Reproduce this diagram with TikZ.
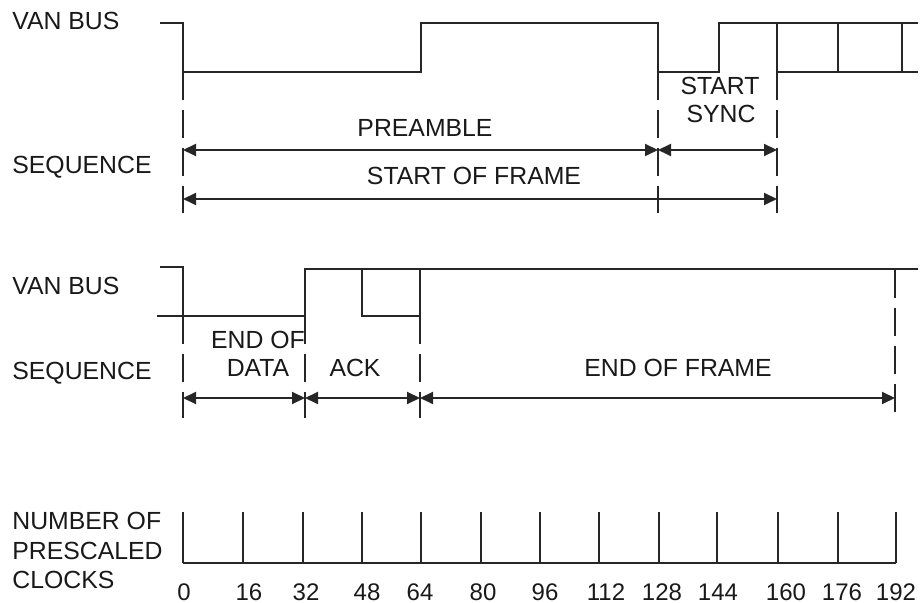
\documentclass[tikz,border=0pt]{standalone}
\usepackage{fontspec}
\setmainfont{Liberation Sans}
\usetikzlibrary{arrows.meta}
\tikzset{
  wave/.style={line width=0.95pt, line join=miter, draw=black!85},
  guide/.style={line width=0.95pt, draw=black!85, dash pattern=on 14pt off 5pt},
  span/.style={line width=0.95pt, draw=black!85, {Triangle[length=6.5pt,width=6pt]}-{Triangle[length=6.5pt,width=6pt]}},
  lbl/.style={anchor=base west, inner sep=0pt, text=black!90, font=\fontsize{12.4}{14}\selectfont},
  txt/.style={anchor=base, inner sep=0pt, text=black!90, font=\fontsize{12.4}{14}\selectfont},
  num/.style={anchor=base, inner sep=0pt, text=black!90, font=\fontsize{12}{13}\selectfont},
  tickline/.style={line width=0.95pt, draw=black!85}
}
\begin{document}
\begin{tikzpicture}[x=0.5pt,y=-0.5pt]
\useasboundingbox (0,0) rectangle (920,603);
% left labels
\node[lbl] (vb1) at (12,30) {VAN BUS};
\node[lbl] (sq1) at (12,174) {SEQUENCE};
\node[lbl] (vb2) at (12,295) {VAN BUS};
\node[lbl] (sq2) at (12,380) {SEQUENCE};
\node[lbl] (nc1) at (12,529) {NUMBER OF};
\node[lbl] (nc2) at (12,559) {PRESCALED};
\node[lbl] (nc3) at (12,588) {CLOCKS};
% top waveform
\draw[wave] (160,23) -- (183,23) -- (183,72) -- (421,72) -- (421,23) -- (658,23) -- (658,72) -- (719,72) -- (719,23) -- (918,23);
\draw[wave] (777,23) -- (777,72) -- (918,72);
\draw[wave] (838,23) -- (838,72);
\draw[wave] (902,23) -- (902,72);
% top guides
\coordinate (a0t) at (183,72);  \coordinate (a0b) at (183,213);
\coordinate (a1t) at (658,72);  \coordinate (a1b) at (658,213);
\coordinate (a2t) at (777,72);  \coordinate (a2b) at (777,213);
\draw[guide] (a0t) -- (a0b);
\draw[guide] (a1t) -- (a1b);
\draw[guide] (a2t) -- (a2b);
\coordinate (p0) at (183,150); \coordinate (p1) at (658,150); \coordinate (p2) at (777,150);
\coordinate (f0) at (183,199); \coordinate (f2) at (777,199);
\draw[span] (p0) -- (p1);
\draw[span] (p1) -- (p2);
\draw[span] (f0) -- (f2);
\node[txt] (pre) at (425,137) {PREAMBLE};
\node[txt] (sof) at (474,185) {START OF FRAME};
\node[txt] (ss1) at (720,95) {START};
\node[txt] (ss2) at (721,123) {SYNC};
% bottom waveform
\draw[wave] (160,267) -- (183,267) -- (183,316);
\draw[wave] (157,316) -- (305,316) -- (305,269) -- (918,269);
\draw[wave] (362,269) -- (362,316) -- (420,316) -- (420,269);
\coordinate (b0t) at (183,316); \coordinate (b0b) at (183,418);
\coordinate (b1t) at (305,316); \coordinate (b1b) at (305,418);
\coordinate (b2t) at (420,316); \coordinate (b2b) at (420,418);
\coordinate (b3t) at (895,270); \coordinate (b3b) at (895,418);
\draw[guide] (b0t) -- (b0b);
\draw[guide] (b1t) -- (b1b);
\draw[guide] (b2t) -- (b2b);
\draw[guide] (b3t) -- (b3b);
\coordinate (e0) at (183,398); \coordinate (e1) at (305,398);
\coordinate (e2) at (420,398); \coordinate (e3) at (895,398);
\draw[span] (e0) -- (e1);
\draw[span] (e1) -- (e2);
\draw[span] (e2) -- (e3);
\node[txt] (eod1) at (258,349) {END OF};
\node[txt] (eod2) at (258,377) {DATA};
\node[txt] (ack) at (355,377) {ACK};
\node[txt] (eof) at (678,377) {END OF FRAME};
% clock scale
\coordinate (c0) at (183,563); \coordinate (c1) at (896,563);
\draw[tickline] (c0) -- (c1);
\foreach \x [count=\i] in {183,243,303,362,421,481,540,599,659,717,778,838,896}{
  \coordinate (tk\i) at (\x,512);
  \coordinate (tb\i) at (\x,563);
  \draw[tickline] (tk\i) -- (tb\i);
}
\foreach \x/\v [count=\i] in {184/0,249/16,306/32,367/48,420/64,483/80,545/96,606/112,662/128,718/144,786/160,842/176,896/192}{
  \node[num] (n\i) at (\x,600) {\v};
}
\end{tikzpicture}
\end{document}
